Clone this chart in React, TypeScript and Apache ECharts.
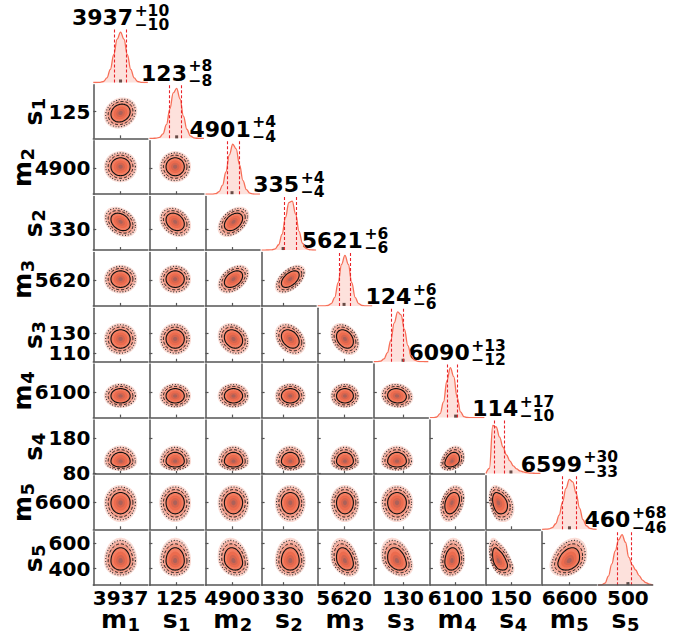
import React, { useEffect, useRef } from "react";
import * as echarts from "echarts";

// ---------- data ----------
const PARAM_LETTERS = ["m", "s", "m", "s", "m", "s", "m", "s", "m", "s"];
const PARAM_SUBS = ["1", "1", "2", "2", "3", "3", "4", "4", "5", "5"];
const MEDIANS = [3937, 123, 4901, 335, 5621, 124, 6090, 114, 6599, 460];
const ERR_PLUS = [10, 8, 4, 4, 6, 6, 13, 17, 30, 68];
const ERR_MINUS = [10, 8, 4, 4, 6, 6, 12, 10, 33, 46];
const TRUTHS = [3937, 125, 4900, 330, 5620, 130, 6100, 150, 6600, 500];
const AXIS_MIN = [3893, 88, 4882, 315, 5591, 101, 6032, 80, 6477, 270];
const AXIS_MAX = [3981, 162, 4919, 353, 5651, 155, 6176, 233, 6722, 692];
const X_TICKS = [[3937], [125], [4900], [330], [5620], [130], [6100], [150], [6600], [500]];
const Y_TICKS = [[], [125], [4900], [330], [5620], [110, 130], [6100], [80, 180], [6600], [400, 600]];

// marginal densities (peak-normalised), sampled at 17 even steps from AXIS_MIN to AXIS_MAX
const D_M1 = [0, 0, 0.004, 0.02, 0.09, 0.26, 0.55, 0.86, 1, 0.86, 0.55, 0.26, 0.09, 0.02, 0.004, 0, 0];
const D_S1 = [0, 0, 0.004, 0.02, 0.09, 0.27, 0.58, 0.9, 0.99, 0.78, 0.44, 0.18, 0.05, 0.011, 0.002, 0, 0];
const D_M2 = [0, 0, 0.002, 0.011, 0.05, 0.18, 0.44, 0.78, 0.99, 0.9, 0.58, 0.27, 0.09, 0.02, 0.004, 0, 0];
const D_S2 = [0, 0, 0.001, 0.004, 0.025, 0.105, 0.31, 0.64, 0.94, 0.97, 0.71, 0.37, 0.135, 0.034, 0.006, 0.001, 0];
const D_M3 = [0, 0, 0.001, 0.008, 0.044, 0.17, 0.46, 0.82, 1, 0.82, 0.46, 0.17, 0.044, 0.008, 0.001, 0, 0];
const D_S3 = [0, 0.002, 0.012, 0.055, 0.18, 0.43, 0.77, 0.99, 0.93, 0.64, 0.32, 0.12, 0.031, 0.006, 0.001, 0, 0];
const D_M4 = [0, 0.001, 0.012, 0.08, 0.31, 0.73, 0.99, 0.81, 0.4, 0.115, 0.02, 0.002, 0, 0, 0, 0, 0];
const D_S4 = [0, 0.1, 0.95, 0.92, 0.72, 0.52, 0.37, 0.25, 0.15, 0.09, 0.05, 0.03, 0.015, 0.008, 0.004, 0.002, 0];
const D_M5 = [0, 0.002, 0.008, 0.035, 0.11, 0.28, 0.54, 0.81, 0.99, 0.94, 0.71, 0.42, 0.19, 0.07, 0.02, 0.004, 0];
const D_S5 = [0, 0.005, 0.04, 0.18, 0.42, 0.68, 0.9, 1.0, 0.85, 0.55, 0.4, 0.3, 0.19, 0.1, 0.05, 0.02, 0.005];
const DENSITIES = [D_M1, D_S1, D_M2, D_S2, D_M3, D_S3, D_M4, D_S4, D_M5, D_S5];

const CORR_S1 = [0.15];
const CORR_M2 = [0, 0];
const CORR_S2 = [-0.3, -0.25, 0.4];
const CORR_M3 = [0, 0, 0.4, 0.5];
const CORR_S3 = [0, 0, -0.2, -0.3, -0.3];
const CORR_M4 = [0, 0, 0, 0, 0, -0.1];
const CORR_S4 = [0, 0, 0, 0, 0, 0, 0.3];
const CORR_M5 = [0, 0, 0, 0, 0, 0, 0.3, -0.3];
const CORR_S5 = [0, 0, -0.2, 0, -0.3, -0.3, 0.1, -0.5, 0.3];
const CORR = [[], CORR_S1, CORR_M2, CORR_S2, CORR_M3, CORR_S3, CORR_M4, CORR_S4, CORR_M5, CORR_S5];

// contour levels (in units of the 1-sigma errors)
const LEVELS = [2.7, 2.4, 2.0, 1.55, 1.1, 0.7, 0.35];

// ---------- layout & style ----------
const N = 10;
const COL_LEFT0 = 93.3;
const COL_STEP = 56.1;
const CELL_W = 54.5;
const ROW_TOP0 = 29;
const ROW_STEP = 55.85;
const CELL_H = 53.5;
const FONT = '"DejaVu Sans", "Liberation Sans", sans-serif';
const LINE_COLOR = "#f76f58";
const AREA_COLOR = "rgba(247,111,88,0.3)";
const RED = "#e8232a";
const AX_COLOR = "#555";
const LEVEL_FILLS = ["#fbdcd5", "#f6b3a5", "#f49c88", "#f27c60", "#ec6b4e", "#d5654f", "#ac6159"];
const LEVEL_STROKES: (null | { dash: number[] | null; w: number; c: string })[] = [
  null,
  { dash: [1, 1.8], w: 1.1, c: "#333" },
  { dash: [3, 2], w: 1, c: "#111" },
  { dash: null, w: 1.1, c: "#111" },
  null,
  null,
  null,
];
const TITLE_SIZE = 22;
const TITLE_SMALL = 15.5;
const TICK_SIZE = 20;
const NAME_SIZE = 25;
const NAME_SUB = 18;

const measureCtx = typeof document !== "undefined" ? document.createElement("canvas").getContext("2d") : null;
function textW(text: string, size: number) {
  if (!measureCtx) return text.length * size * 0.65;
  measureCtx.font = `bold ${size}px "DejaVu Sans"`;
  return measureCtx.measureText(text).width;
}
const colCenter = (j: number) => COL_LEFT0 + j * COL_STEP + CELL_W / 2;
const rowTop = (i: number) => ROW_TOP0 + i * ROW_STEP;

function txt(x: number, y: number, text: string, size: number) {
  return {
    type: "text",
    x,
    y,
    silent: true,
    style: {
      text,
      fill: "#000",
      font: `bold ${size}px ${FONT}`,
      fontSize: size,
      fontWeight: "bold",
      fontFamily: FONT,
      align: "left",
      verticalAlign: "middle",
      textAlign: "left",
      textVerticalAlign: "middle",
    },
  };
}

function subLabel(x: number, y: number, main: string, sub: string, rotate: boolean) {
  const ms = NAME_SIZE, ss = NAME_SUB;
  const wm = textW(main, ms), ws = textW(sub, ss);
  const total = wm + ws + 0.5;
  return {
    type: "group",
    x,
    y,
    rotation: rotate ? Math.PI / 2 : 0,
    children: [txt(-total / 2, -0.35 * ms, main, ms), txt(-total / 2 + wm + 0.5, 3 - 0.35 * ss, sub, ss)],
  };
}

function titleLabel(k: number) {
  const ms = TITLE_SIZE, ss = TITLE_SMALL;
  const main = String(MEDIANS[k]);
  const sup = "+" + ERR_PLUS[k];
  const sub = "\u2212" + ERR_MINUS[k];
  const wm = textW(main, ms);
  const wsm = Math.max(textW(sup, ss), textW(sub, ss));
  const total = wm + 1.5 + wsm;
  const left = colCenter(k) - total / 2;
  const base = rowTop(k) - 4;
  return [
    txt(left, base - 0.35 * ms, main, ms),
    txt(left + wm + 1.5, base - 9 - 0.35 * ss, sup, ss),
    txt(left + wm + 1.5, base + 5.3 - 0.35 * ss, sub, ss),
  ];
}

function buildOption() {
  const grids: any[] = [];
  const xAxes: any[] = [];
  const yAxes: any[] = [];
  const series: any[] = [];
  const graphics: any[] = [];
  const labelStyle = { fontSize: TICK_SIZE, fontWeight: "bold", fontFamily: FONT, color: "#000", hideOverlap: false };
  const fmt = (v: number) => String(v);
  let g = 0;
  for (let i = 0; i < N; i++) {
    for (let j = 0; j <= i; j++) {
      grids.push({
        left: COL_LEFT0 + j * COL_STEP,
        top: rowTop(i),
        width: CELL_W,
        height: CELL_H,
        containLabel: false,
      });
      const isBottom = i === N - 1;
      if (i === j) {
        xAxes.push({
          gridIndex: g,
          type: "value",
          min: AXIS_MIN[j],
          max: AXIS_MAX[j],
          z: 5,
          axisLine: { show: isBottom, onZero: false, lineStyle: { color: AX_COLOR, width: 1.5 } },
          axisTick: { show: isBottom, inside: true, length: 3, customValues: X_TICKS[j], lineStyle: { color: AX_COLOR, width: 1.2 } },
          axisLabel: { show: isBottom, customValues: X_TICKS[j], margin: 3, formatter: fmt, ...labelStyle },
          splitLine: { show: false },
        });
        yAxes.push({ gridIndex: g, type: "value", min: 0, max: 1.06, show: false, splitLine: { show: false } });
        const dens = DENSITIES[j];
        const step = (AXIS_MAX[j] - AXIS_MIN[j]) / (dens.length - 1);
        series.push({
          type: "line",
          xAxisIndex: g,
          yAxisIndex: g,
          data: dens.map((d, k) => [AXIS_MIN[j] + k * step, d]),
          smooth: 0.4,
          smoothMonotone: "x",
          symbol: "none",
          silent: true,
          lineStyle: { color: LINE_COLOR, width: 1.3 },
          areaStyle: { color: AREA_COLOR },
          markLine: {
            symbol: "none",
            silent: true,
            animation: false,
            label: { show: false },
            lineStyle: { color: RED, type: [3, 2], width: 1.1 },
            data: [{ xAxis: MEDIANS[j] - ERR_MINUS[j] }, { xAxis: MEDIANS[j] + ERR_PLUS[j] }],
          },
        });
        series.push({
          type: "scatter",
          xAxisIndex: g,
          yAxisIndex: g,
          data: [[TRUTHS[j], 0.03]],
          symbol: "rect",
          symbolSize: 3,
          silent: true,
          itemStyle: { color: "#111" },
        });
      } else {
        xAxes.push({
          gridIndex: g,
          type: "value",
          min: AXIS_MIN[j],
          max: AXIS_MAX[j],
          axisLine: { show: true, onZero: false, lineStyle: { color: AX_COLOR, width: 1.5 } },
          axisTick: { show: true, inside: true, length: 3, customValues: X_TICKS[j], lineStyle: { color: AX_COLOR, width: 1.2 } },
          axisLabel: { show: isBottom, customValues: X_TICKS[j], margin: 3, formatter: fmt, ...labelStyle },
          splitLine: { show: false },
        });
        yAxes.push({
          gridIndex: g,
          type: "value",
          min: AXIS_MIN[i],
          max: AXIS_MAX[i],
          axisLine: { show: true, onZero: false, lineStyle: { color: AX_COLOR, width: 1.5 } },
          axisTick: { show: true, inside: true, length: 3, customValues: Y_TICKS[i], lineStyle: { color: AX_COLOR, width: 1.2 } },
          axisLabel: { show: j === 0, customValues: Y_TICKS[i], margin: 3, formatter: fmt, showMinLabel: true, showMaxLabel: true, ...labelStyle },
          splitLine: { show: false },
        });
        const ix = j, iy = i;
        const rho = CORR[i][j];
        series.push({
          type: "custom",
          xAxisIndex: g,
          yAxisIndex: g,
          clip: true,
          silent: true,
          data: [[MEDIANS[ix], MEDIANS[iy]]],
          renderItem: (params: any, api: any) => {
            const children: any[] = [];
            const sq = Math.sqrt(1 - rho * rho);
            LEVELS.forEach((r, li) => {
              const pts: number[][] = [];
              const n = 60;
              for (let k = 0; k < n; k++) {
                const t = (2 * Math.PI * k) / n;
                const u = r * Math.cos(t);
                const v = r * Math.sin(t);
                const zx = u;
                const zy = rho * u + sq * v;
                const x = MEDIANS[ix] + zx * (zx > 0 ? ERR_PLUS[ix] : ERR_MINUS[ix]);
                const y = MEDIANS[iy] + zy * (zy > 0 ? ERR_PLUS[iy] : ERR_MINUS[iy]);
                pts.push(api.coord([x, y]));
              }
              const st = LEVEL_STROKES[li];
              children.push({
                type: "polygon",
                shape: { points: pts, smooth: 0.2 },
                style: st
                  ? { fill: LEVEL_FILLS[li], stroke: st.c, lineWidth: st.w, lineDash: st.dash || undefined }
                  : { fill: LEVEL_FILLS[li] },
              });
            });
            return { type: "group", children };
          },
        });
      }
      g++;
    }
  }
  for (let k = 0; k < N; k++) graphics.push(...titleLabel(k));
  for (let j = 0; j < N; j++) graphics.push(subLabel(colCenter(j), 628, PARAM_LETTERS[j], PARAM_SUBS[j], false));
  for (let i = 1; i < N; i++) {
    const bx = PARAM_LETTERS[i] === "m" ? 31 : 42;
    graphics.push(subLabel(bx, rowTop(i) + CELL_H / 2, PARAM_LETTERS[i], PARAM_SUBS[i], true));
  }
  return {
    animation: false,
    backgroundColor: "#fff",
    grid: grids,
    xAxis: xAxes,
    yAxis: yAxes,
    series,
    graphic: { elements: graphics },
  };
}

export default function App() {
  const ref = useRef<HTMLDivElement>(null);
  useEffect(() => {
    if (!ref.current) return;
    const chart = echarts.init(ref.current, null, { renderer: "svg" });
    chart.setOption(buildOption() as any);
    return () => chart.dispose();
  }, []);
  return (
    <div
      ref={ref}
      style={{ position: "fixed", left: 0, top: 0, width: 691, height: 636, background: "#fff" }}
    />
  );
}
